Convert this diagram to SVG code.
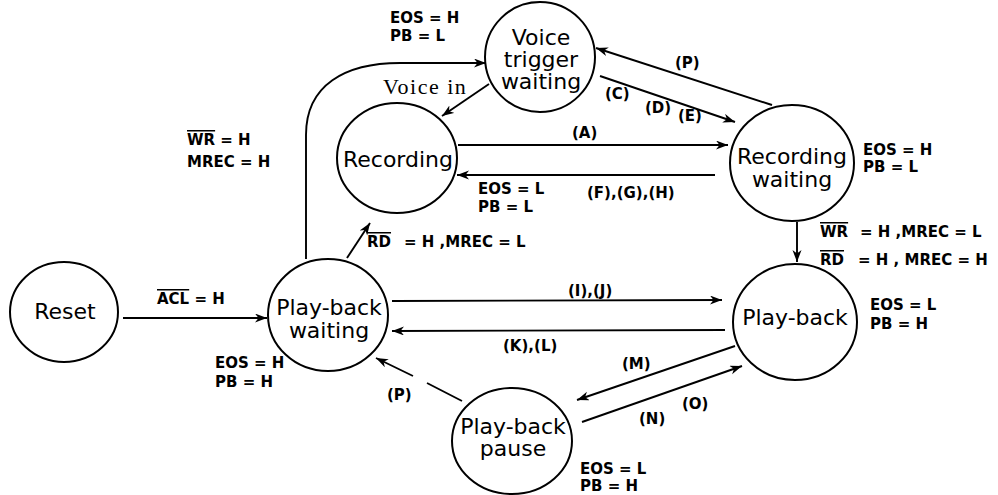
<svg xmlns="http://www.w3.org/2000/svg" width="998" height="495" viewBox="0 0 998 495">
<style>
.node{fill:#fff;stroke:#000;stroke-width:2}
.nl{font-family:"DejaVu Sans",sans-serif;font-size:22px;fill:#000;text-anchor:middle}
.sl{font-family:"DejaVu Sans",sans-serif;font-size:15px;font-weight:bold;fill:#000}
.ser{font-family:"Liberation Serif",serif;font-size:22px;letter-spacing:1.5px;fill:#000}
.ln{fill:none;stroke:#000;stroke-width:1.9}
.ar{marker-end:url(#ah)}
.ov{text-decoration:overline}
</style>
<defs>
<marker id="ah" markerUnits="userSpaceOnUse" markerWidth="14" markerHeight="10" refX="12" refY="4.5" orient="auto">
<path d="M0,0 L12,4.5 L0,9 L3.5,4.5 Z" fill="#000"/>
</marker>
</defs>
<rect width="998" height="495" fill="#fff"/>
<g id="connectors">
<path class="ln ar" d="M306,259 L306,135 C306,85 345,63 400,63 L486,63"/>
<path class="ln ar" d="M489,84 L442,116"/>
<path class="ln ar" d="M772,105 L596,48"/>
<path class="ln ar" d="M600,76 L735,122"/>
<path class="ln ar" d="M458,145 L728,145"/>
<path class="ln ar" d="M715,175 L457,175"/>
<path class="ln ar" d="M347,258 L370,223"/>
<path class="ln ar" d="M123,318 L267,318"/>
<path class="ln ar" d="M797,222 L797,262"/>
<path class="ln ar" d="M392,301 L722,300"/>
<path class="ln ar" d="M725,330 L392,331"/>
<path class="ln ar" d="M735,346 L577,400"/>
<path class="ln ar" d="M582,422 L742,366"/>
<path class="ln ar" d="M462,401 L427,383 M413,376 L376,358"/>
<text class="ser" x="383" y="94">Voice in</text>
<text class="sl" x="675" y="68">(P)</text>
<text class="sl" x="605" y="99">(C)</text>
<text class="sl" x="645" y="113">(D)</text>
<text class="sl" x="678" y="121">(E)</text>
<text class="sl" x="572" y="138">(A)</text>
<text class="sl" x="587" y="198">(F),(G),(H)</text>
<text class="sl" x="187" y="145"><tspan class="ov">WR</tspan> = H</text>
<text class="sl" x="187" y="167">MREC = H</text>
<text class="sl" x="367" y="247"><tspan class="ov">RD</tspan><tspan x="404">= H ,MREC = L</tspan></text>
<text class="sl" x="157" y="304"><tspan class="ov">ACL</tspan> = H</text>
<text class="sl" x="820" y="237"><tspan class="ov">WR</tspan><tspan x="860">= H ,MREC = L</tspan></text>
<text class="sl" x="820" y="265"><tspan class="ov">RD</tspan><tspan x="858">= H , MREC = H</tspan></text>
<text class="sl" x="568" y="296">(I),(J)</text>
<text class="sl" x="503" y="351">(K),(L)</text>
<text class="sl" x="622" y="369">(M)</text>
<text class="sl" x="387" y="400">(P)</text>
<text class="sl" x="639" y="424">(N)</text>
<text class="sl" x="682" y="409">(O)</text>
</g>
<g id="reset">
<ellipse class="node" cx="64" cy="312" rx="54" ry="50"/>
<text class="nl" x="65" y="319">Reset</text>
</g>
<g id="playback-waiting">
<ellipse class="node" cx="328" cy="315" rx="60" ry="56"/>
<text class="nl" x="329" y="315">Play-back</text>
<text class="nl" x="329" y="338">waiting</text>
<text class="sl" x="215" y="368">EOS = H</text>
<text class="sl" x="215" y="387">PB = H</text>
</g>
<g id="recording">
<ellipse class="node" cx="397" cy="158" rx="60" ry="55"/>
<text class="nl" x="398" y="167">Recording</text>
<text class="sl" x="478" y="194">EOS = L</text>
<text class="sl" x="478" y="212">PB = L</text>
</g>
<g id="voice-trigger-waiting">
<ellipse class="node" cx="540" cy="57" rx="55" ry="55"/>
<text class="nl" x="541" y="45">Voice</text>
<text class="nl" x="541" y="67">trigger</text>
<text class="nl" x="541" y="89">waiting</text>
<text class="sl" x="390" y="23">EOS = H</text>
<text class="sl" x="390" y="41">PB = L</text>
</g>
<g id="recording-waiting">
<ellipse class="node" cx="792" cy="163" rx="62" ry="58"/>
<text class="nl" x="792" y="164">Recording</text>
<text class="nl" x="792" y="187">waiting</text>
<text class="sl" x="863" y="155">EOS = H</text>
<text class="sl" x="863" y="172">PB = L</text>
</g>
<g id="playback">
<ellipse class="node" cx="795" cy="322" rx="62" ry="58"/>
<text class="nl" x="795" y="325">Play-back</text>
<text class="sl" x="870" y="310">EOS = L</text>
<text class="sl" x="870" y="329">PB = H</text>
</g>
<g id="playback-pause">
<ellipse class="node" cx="512" cy="441" rx="60" ry="53"/>
<text class="nl" x="513" y="434">Play-back</text>
<text class="nl" x="513" y="456">pause</text>
<text class="sl" x="580" y="474">EOS = L</text>
<text class="sl" x="580" y="491">PB = H</text>
</g>
</svg>
